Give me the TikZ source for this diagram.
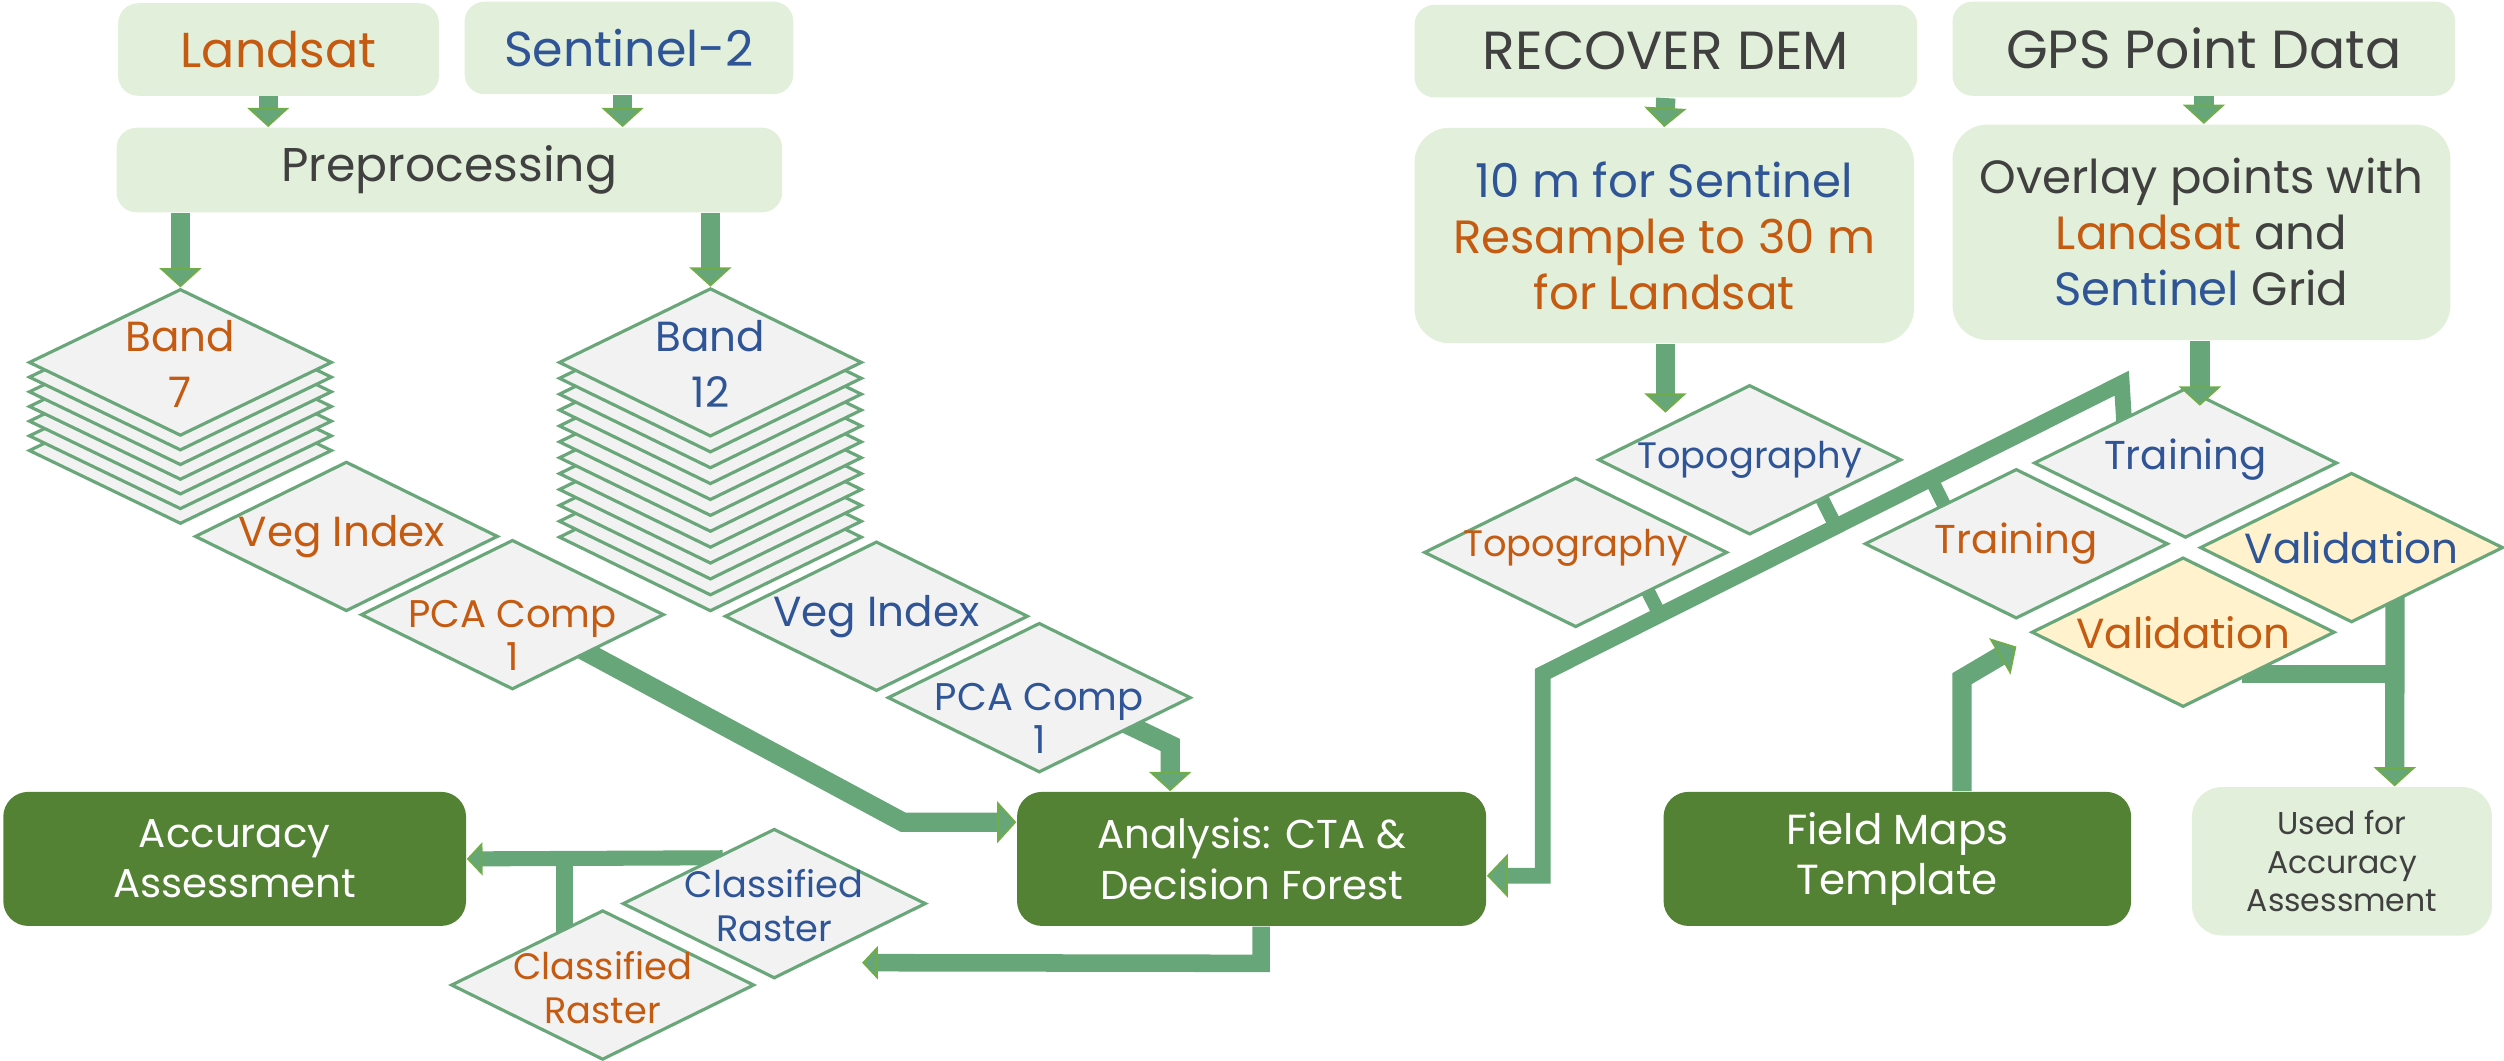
\documentclass[tikz,border=0pt]{standalone}
\usepackage{fontspec}
\setmainfont{Poppins}
\usetikzlibrary{arrows.meta,shapes.geometric,calc,backgrounds}
\definecolor{lgreen}{HTML}{E2EFDA}
\definecolor{dgreen}{HTML}{548235}
\definecolor{dfill}{HTML}{F2F2F2}
\definecolor{yfill}{HTML}{FFF2CC}
\definecolor{dline}{HTML}{69A679}
\definecolor{afill}{HTML}{67A678}
\definecolor{aline}{HTML}{70AD47}
\definecolor{corange}{HTML}{C55A11}
\definecolor{cblue}{HTML}{2F5597}
\definecolor{cdark}{HTML}{404040}
\begin{document}
\begin{tikzpicture}[x=0.016cm, y=-0.016cm,
 lbox/.style={fill=lgreen, rounded corners=0.2cm, inner sep=0pt, align=center, text=cdark, font=\fontsize{14}{17}\selectfont},
 mbox/.style={lbox, rounded corners=0.35cm, font=\fontsize{13.3}{16}\selectfont},
 dbox/.style={fill=dgreen, rounded corners=0.25cm, inner sep=0pt, align=center, text=white, font=\fontsize{11.5}{14.3}\selectfont},
 dia/.style={diamond, draw=dline, line width=0.9pt, fill=dfill, minimum width=3.04cm, minimum height=1.5cm, inner sep=0pt},
 ydia/.style={dia, fill=yfill},
 lbl/.style={align=center, inner sep=0pt},
 big/.style={lbl, font=\fontsize{12}{14.2}\selectfont},
 band/.style={lbl, font=\fontsize{12}{16}\selectfont},
 mid/.style={lbl, font=\fontsize{11}{12.5}\selectfont},
 sml/.style={lbl, font=\fontsize{10.5}{12.5}\selectfont},
 fat/.style={draw=afill, line width=5.5pt, line join=miter, -{Triangle[width=12pt,length=5.5pt,fill=afill,color=aline,line width=0.5pt]}},
 small/.style={line width=4.3pt, -{Triangle[width=9.5pt,length=4.5pt,fill=afill,color=aline,line width=0.5pt]}},
 bar/.style={draw=afill, line width=5pt},
 bus/.style={draw=afill, line width=4pt, line join=miter},
]
\useasboundingbox (0,0) rectangle (1568.5,664);

% ---------- top boxes ----------
\node[lbox, minimum width=3.216cm, minimum height=0.928cm, text=corange] (landsat) at (174.5,31) {Landsat};
\node[lbox, minimum width=3.296cm, minimum height=0.928cm, text=cblue] (sent) at (394,30) {Sentinel-2};
\node[lbox, minimum width=6.672cm, minimum height=0.848cm, font=\fontsize{13.5}{16}\selectfont] (pre) at (281.5,106.5) {Preprocessing};
\node[lbox, minimum width=5.04cm, minimum height=0.928cm, font=\fontsize{15.3}{18}\selectfont] (dem) at (1043.5,32) {RECOVER DEM};
\node[lbox, minimum width=5.04cm, minimum height=0.944cm, font=\fontsize{15.3}{18}\selectfont] (gps) at (1380.5,30.5) {GPS Point Data};
\node[mbox, minimum width=5.008cm, minimum height=2.16cm] (res) at (1042.5,147.5)
  {\textcolor{cblue}{10 m for Sentinel}\\\textcolor{corange}{Resample to 30 m}\\\textcolor{corange}{for Landsat}};
\node[mbox, minimum width=4.992cm, minimum height=2.16cm] (ovl) at (1379,145.5)
  {Overlay points with\\\textcolor{corange}{Landsat} and\\\textcolor{cblue}{Sentinel} Grid};

% ---------- bottom boxes ----------
\node[dbox, minimum width=4.64cm, minimum height=1.344cm] (acc) at (147,538) {Accuracy\\Assessment};
\node[dbox, minimum width=4.704cm, minimum height=1.344cm] (an) at (784,538) {Analysis: CTA \&\\Decision Forest};
\node[dbox, minimum width=4.688cm, minimum height=1.344cm, font=\fontsize{12}{14.3}\selectfont] (fm) at (1188.5,538) {Field Maps\\Template};
\node[lbox, rounded corners=0.3cm, minimum width=3.008cm, minimum height=1.488cm, font=\fontsize{9}{11}\selectfont] (used) at (1467,539.5) {Used for\\Accuracy\\Assessment};

% ---------- band stacks ----------
\foreach \k in {6,5,...,1} { \node[dia, minimum height=1.472cm] (b7l\k) at (113,{227+9.2*\k}) {}; }
\node[dia, minimum height=1.472cm] (b7) at (113,227) {};
\node[band, text=corange] (b7t) at ($(b7.center)+(0,1)$) {Band\\7};
\foreach \k in {11,10,...,1} { \node[dia, minimum height=1.488cm] (b12l\k) at (445,{227+9.95*\k}) {}; }
\node[dia, minimum height=1.488cm] (b12) at (445,227) {};
\node[band, text=cblue] (b12t) at ($(b12.center)+(0,1)$) {Band\\12};

% ---------- other diamonds ----------
\node[dia] (vegO) at (217,336) {};
\node[big, text=corange] (vegOt) at ($(vegO.center)+(-3,0)$) {Veg Index};
\node[dia] (pcaO) at (321,385) {};
\node[mid, text=corange] (pcaOt) at ($(pcaO.center)+(0,13)$) {PCA Comp\\1};
\node[dia] (vegB) at (549,386) {};
\node[big, text=cblue] (vegBt) at (vegB.center) {Veg Index};
\node[dia] (pcaB) at (651,437) {};
\node[mid, text=cblue] (pcaBt) at ($(pcaB.center)+(0,13)$) {PCA Comp\\1};
\node[dia] (crB) at (485,566) {};
\node[sml, text=cblue] (crBt) at ($(crB.center)+(0,1.5)$) {Classified\\Raster};
\node[dia] (crO) at (377.5,617) {};
\node[sml, text=corange] (crOt) at ($(crO.center)+(0,1.5)$) {Classified\\Raster};
\node[dia] (topoB) at (1096,288) {};
\node[sml, text=cblue] (topoBt) at (topoB.center) {Topography};
\node[dia] (topoO) at (987,346) {};
\node[sml, text=corange] (topoOt) at ($(topoO.center)+(0,-3)$) {Topography};
\node[dia] (trainO) at (1263,340.6) {};
\node[lbl, font=\fontsize{11.5}{13}\selectfont, text=corange] (trainOt) at (trainO.center) {Training};
\node[dia] (trainB) at (1369,290) {};
\node[lbl, font=\fontsize{11.5}{13}\selectfont, text=cblue] (trainBt) at ($(trainB.center)+(0,-2)$) {Training};
\node[ydia] (valB) at (1473,343) {};
\node[big, text=cblue] (valBt) at (valB.center) {Validation};
\node[ydia] (valO) at (1367.5,396) {};
\node[big, text=corange] (valOt) at (valO.center) {Validation};

% ---------- helper coordinates ----------
\coordinate (topoIn) at ($(topoB.west)!0.45!(topoB.north)+(0,-8)$);
\coordinate (trainIn) at ($(trainB.north)+(9,12)$);
\coordinate (crIn) at ($(crB.center)+(55,37)$);
\coordinate (valOin) at ($(valO.west)+(-8.5,9)$);
\coordinate (crOup) at ($(crO.west)!0.75!(crO.north)$);
\coordinate (vBout) at ($(valB.east)!0.716!(valB.south)$);
\coordinate (vOout) at ($(valO.east)!0.55!(valO.south)$);
\coordinate (tD) at ($(trainB.west)!0.6!(trainB.north)$);
\coordinate (busA) at ($(trainB.west)+(56,-50)$);
\coordinate (busB) at ($(an.east)+(35,-116)$);
\coordinate (tA0) at ($(topoO.east)!0.5!(topoO.south)$);
\coordinate (tB0) at ($(topoB.east)!0.5!(topoB.south)$);
\coordinate (tC0) at ($(trainO.west)!0.5!(trainO.north)$);
\coordinate (tA) at ($(tA0)!2pt!(topoO.center)$);
\coordinate (tB) at ($(tB0)!2pt!(topoB.center)$);
\coordinate (tC) at ($(tC0)!2pt!(trainO.center)$);

% ---------- connectors on top ----------
\draw[fat] ($(landsat.south)+(-6.5,0)$) -- ($(landsat.south |- pre.north)+(-6.5,0)$);
\draw[fat] ($(sent.south)+(-4,0)$) -- ($(sent.south |- pre.north)+(-4,0)$);
\draw[fat] (b7.north |- pre.south) -- (b7.north);
\draw[fat] (b12.north |- pre.south) -- (b12.north);
\draw[fat] (dem.south) -- (res.north);
\draw[fat] (gps.south) -- (gps.south |- ovl.north);
\draw[fat] (res.south -| topoIn) -- (topoIn);
\draw[fat] (ovl.south -| trainIn) -- (trainIn);
\draw[fat, small, line width=5pt] ($(an.south)+(6,0)$) -- ($(an.south)+(6,23)$) -- (crIn);
\draw[fat] ($(fm.north)+(40.5,0)$) -- ($(fm.north)+(40.5,-70.5)$) -- (valOin);

% ---------- connectors behind ----------
\begin{scope}[on background layer]
\draw[fat] ($($(pcaO.east)!0.5!(pcaO.south)$)!4pt!(pcaO.center)$) -- ($(an.west)+(-71,-23)$) -- ($(an.west)+(0,-23)$);
\draw[fat] ($($(pcaB.east)!0.37!(pcaB.south)$)!4pt!(pcaB.center)$) -- ($(an.north)+(-51,-29)$) -- ($(an.north)+(-51,0)$);
\draw[fat, small] ($($(crB.west)!0.6!(crB.north)$)+(6,0)$) -- (acc.east);
\draw[bar, line width=4.8pt] ($(crOup)+(0,5)$) -- (crOup |- acc.east);
\draw[fat, line width=4.5pt, -{Triangle[width=12.5pt,length=6pt,fill=afill,color=aline,line width=0.5pt]}]
  ($(tD)+(0,4)$) -- (busA) -- (busB) -- ($(an.east)+(35,10.5)$) -- ($(an.east)+(0,10.5)$);
\draw[bus] (tA) -- ($(busA)!(tA)!(busB)$);
\draw[bus] (tB) -- ($(busA)!(tB)!(busB)$);
\draw[bus] (tC) -- ($(busA)!(tC)!(busB)$);
\draw[fat] ($(vBout)+(0,-6)$) -- ($(used.north)+(33,0)$);
\draw[bar, line width=5pt] ($(vOout)+(-6,0)$) -- (vOout -| vBout);
\end{scope}
\end{tikzpicture}
\end{document}
